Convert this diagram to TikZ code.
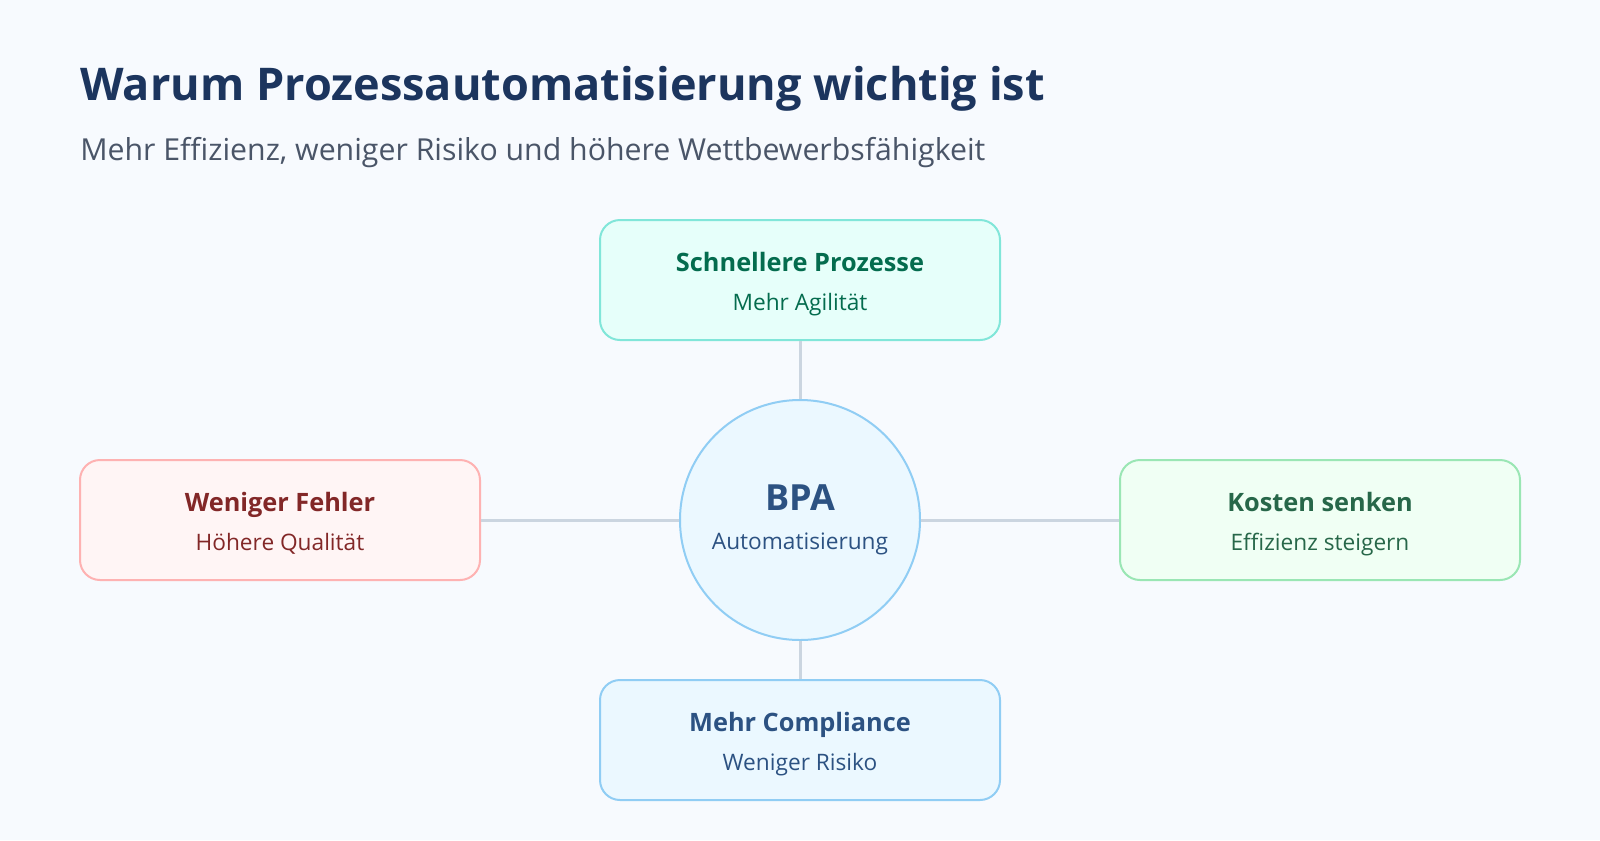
\documentclass[tikz,border=0pt]{standalone}
\usepackage{fontspec}
\setmainfont{Open Sans}
\usetikzlibrary{positioning,calc}

\definecolor{bgpage}{HTML}{F7FAFE}
\definecolor{titleblue}{HTML}{1C355E}
\definecolor{subgray}{HTML}{4A5568}
\definecolor{linkgray}{HTML}{CBD5E0}
% top (teal)
\definecolor{tealfill}{HTML}{E6FFFA}
\definecolor{tealdraw}{HTML}{81E6D9}
\definecolor{tealtext}{HTML}{046C4E}
% left (red)
\definecolor{redfill}{HTML}{FFF5F5}
\definecolor{reddraw}{HTML}{FEB2B2}
\definecolor{redtext}{HTML}{822727}
% right (green)
\definecolor{greenfill}{HTML}{F0FFF4}
\definecolor{greendraw}{HTML}{9AE6B4}
\definecolor{greentext}{HTML}{276749}
% bottom and centre (blue)
\definecolor{bluefill}{HTML}{EBF8FF}
\definecolor{bluedraw}{HTML}{90CDF4}
\definecolor{bluetext}{HTML}{2C5282}

\begin{document}
\begin{tikzpicture}[
    x=0.75pt, y=-0.75pt,
    benefit/.style={rectangle, rounded corners=15pt, draw, line width=1.5pt, minimum width=300pt, minimum height=90pt},
    hub/.style={circle, draw, line width=1.5pt, minimum size=180pt, inner sep=0pt},
    head/.style={anchor=base, inner sep=0pt, font=\fontsize{19}{23}\selectfont\bfseries},
    sub/.style={anchor=base, inner sep=0pt, font=\fontsize{17}{20}\selectfont},
    link/.style={draw=linkgray, line width=2.25pt}
]
\fill[bgpage] (0,0) rectangle (1600,840);
\useasboundingbox (0,0) rectangle (1600,840);

% heading
\node[anchor=base west, inner sep=0pt, text=titleblue, font=\fontsize{33.8}{40}\selectfont\bfseries] (title) at (80,100) {Warum Prozessautomatisierung wichtig ist};
\node[anchor=base west, inner sep=0pt, text=subgray, font=\fontsize{22.7}{28}\selectfont] (subtitle) at (80,160) {Mehr Effizienz, weniger Risiko und höhere Wettbewerbsfähigkeit};

% hub and benefits
\node[hub, draw=bluedraw, fill=bluefill] (bpa) at (800,520) {};
\node[benefit, draw=tealdraw, fill=tealfill] (fast) at (800,280) {};
\node[benefit, draw=reddraw, fill=redfill] (errors) at (280,520) {};
\node[benefit, draw=greendraw, fill=greenfill] (costs) at (1320,520) {};
\node[benefit, draw=bluedraw, fill=bluefill] (compliance) at (800,740) {};

\draw[link] (fast) -- (bpa);
\draw[link] (errors) -- (bpa);
\draw[link] (costs) -- (bpa);
\draw[link] (compliance) -- (bpa);

% texts
\node[anchor=base, inner sep=0pt, text=bluetext, font=\fontsize{27}{32}\selectfont\bfseries] (bpa-h) at ($(bpa)+(0,-10)$) {BPA};
\node[sub, text=bluetext] (bpa-s) at ($(bpa)+(0,29)$) {Automatisierung};

\node[head, text=tealtext] (fast-h) at ($(fast)+(0,-9)$) {Schnellere Prozesse};
\node[sub, text=tealtext] (fast-s) at ($(fast)+(0,30)$) {Mehr Agilität};

\node[head, text=redtext] (errors-h) at ($(errors)+(0,-9)$) {Weniger Fehler};
\node[sub, text=redtext] (errors-s) at ($(errors)+(0,30)$) {Höhere Qualität};

\node[head, text=greentext] (costs-h) at ($(costs)+(0,-9)$) {Kosten senken};
\node[sub, text=greentext] (costs-s) at ($(costs)+(0,30)$) {Effizienz steigern};

\node[head, text=bluetext] (compliance-h) at ($(compliance)+(0,-9)$) {Mehr Compliance};
\node[sub, text=bluetext] (compliance-s) at ($(compliance)+(0,30)$) {Weniger Risiko};
\end{tikzpicture}
\end{document}
